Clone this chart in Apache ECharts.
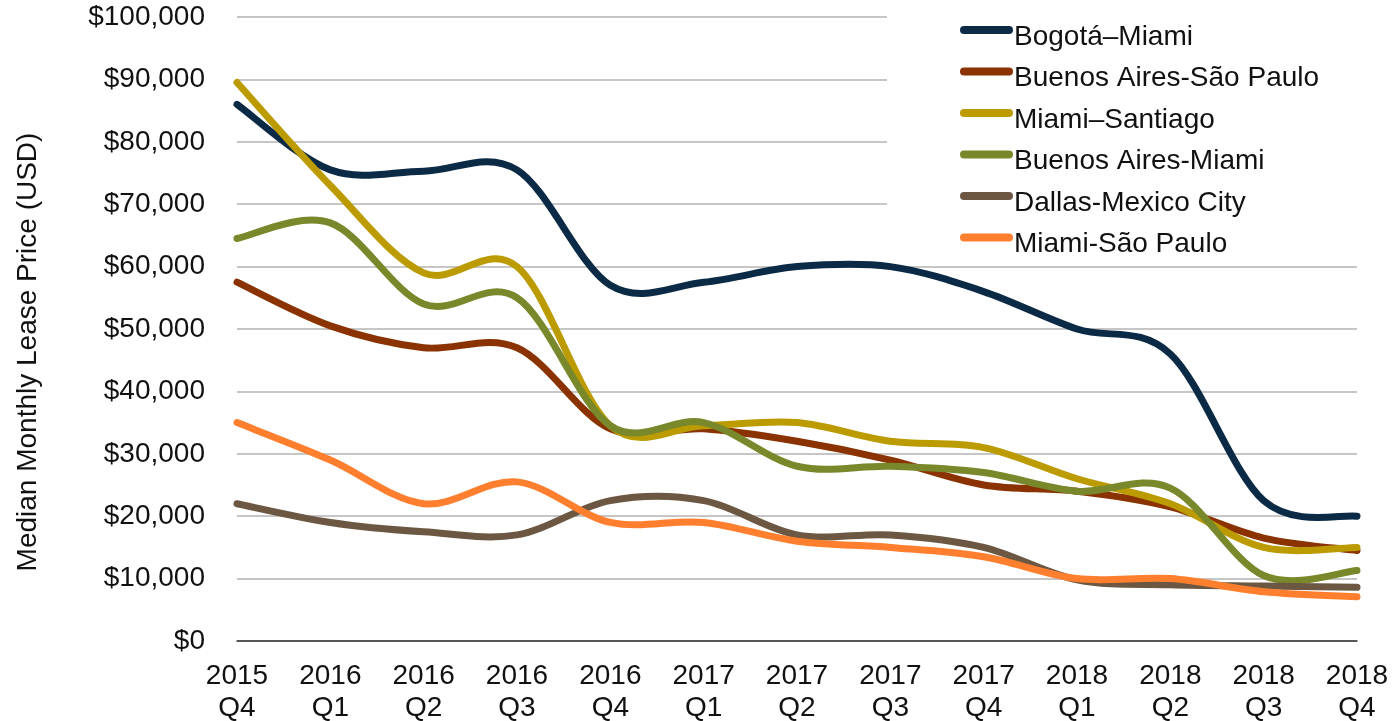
<!DOCTYPE html>
<html>
<head>
<meta charset="utf-8">
<script src="https://cdn.jsdelivr.net/npm/echarts@6/dist/echarts.min.js"></script>
<style>
  html, body { margin: 0; padding: 0; background: #fff; }
  #chart { width: 1392px; height: 721px; }
</style>
</head>
<body>
<div id="chart"></div>
<script>
const categories = ['2015\nQ4','2016\nQ1','2016\nQ2','2016\nQ3','2016\nQ4','2017\nQ1','2017\nQ2','2017\nQ3','2017\nQ4','2018\nQ1','2018\nQ2','2018\nQ3','2018\nQ4'];

const seriesNames = ['Bogotá–Miami','Buenos Aires-São Paulo','Miami–Santiago','Buenos Aires-Miami','Dallas-Mexico City','Miami-São Paulo'];
const seriesColors = ['#0b2a45','#8a3200','#bb9b00','#79882a','#6c5842','#ff7f2e'];

const bogotaMiami         = [86000, 75500, 75300, 75500, 57000, 57500, 60000, 60000, 56000, 50000, 46000, 22500, 20000];
const buenosAiresSaoPaulo = [57500, 50500, 47000, 47000, 34000, 34000, 32000, 29000, 25000, 24000, 21500, 16500, 14500];
const miamiSantiago       = [89500, 73000, 59000, 60000, 34500, 34500, 35000, 32000, 31000, 26000, 22000, 15000, 15000];
const buenosAiresMiami    = [64500, 67000, 54000, 55000, 34500, 35000, 28000, 28000, 27000, 24000, 24500, 10500, 11300];
const dallasMexicoCity    = [22000, 19000, 17500, 17000, 22500, 22500, 17000, 17000, 15000, 9800, 9000, 8800, 8600];
const miamiSaoPaulo       = [35000, 29000, 22000, 25500, 19000, 19000, 16000, 15000, 13500, 10000, 10000, 7900, 7100];

const seriesValues = [bogotaMiami, buenosAiresSaoPaulo, miamiSantiago, buenosAiresMiami, dallasMexicoCity, miamiSaoPaulo];

const yMin = 0, yMax = 100000, yStep = 10000;
const yAxisTitle = 'Median Monthly Lease Price (USD)';

function money(v) {
  return '$' + String(Math.round(v)).replace(/\B(?=(\d{3})+(?!\d))/g, ',');
}

const FONT = '"Liberation Sans", Arial, Helvetica, sans-serif';

// Spreadsheet-style smoothed line (Catmull-Rom through the data points),
// positioned through the chart's own axes via api.coord.
function makeRenderer(values, color) {
  return function (params, api) {
    if (params.dataIndex !== 0) return null;
    const p = values.map((v, i) => api.coord([i, v]));
    const n = p.length;
    const at = (i) => p[Math.max(0, Math.min(n - 1, i))];
    let d = 'M' + p[0][0] + ',' + p[0][1];
    for (let i = 0; i < n - 1; i++) {
      const p0 = at(i - 1), p1 = at(i), p2 = at(i + 1), p3 = at(i + 2);
      const c1x = p1[0] + (p2[0] - p0[0]) / 6, c1y = p1[1] + (p2[1] - p0[1]) / 6;
      const c2x = p2[0] - (p3[0] - p1[0]) / 6, c2y = p2[1] - (p3[1] - p1[1]) / 6;
      d += 'C' + c1x + ',' + c1y + ',' + c2x + ',' + c2y + ',' + p2[0] + ',' + p2[1];
    }
    return {
      type: 'path',
      shape: { pathData: d },
      style: { stroke: color, fill: 'none', lineWidth: 7, lineCap: 'round', lineJoin: 'round' },
      silent: true
    };
  };
}

const chart = echarts.init(document.getElementById('chart'), null, { renderer: 'canvas' });

chart.setOption({
  animation: false,
  backgroundColor: '#ffffff',
  color: seriesColors,
  textStyle: { fontFamily: FONT },
  grid: { left: 237, right: 35, top: 17, bottom: 80, containLabel: false, outerBoundsMode: 'none' },
  legend: {
    orient: 'vertical',
    left: 887,
    top: 2,
    padding: [20, 40, 0, 73],
    backgroundColor: '#ffffff',
    itemWidth: 53,
    itemHeight: 22,
    itemGap: 11.5,
    icon: 'path://M4,0H49A4,4,0,0,1,49,8H4A4,4,0,0,1,4,0Z M0,22',
    itemStyle: { borderWidth: 0 },
    textStyle: { fontFamily: FONT, fontSize: 28, color: '#111', lineHeight: 30, padding: [0, 0, 0, -4] },
    data: seriesNames
  },
  xAxis: {
    type: 'category',
    data: categories,
    boundaryGap: false,
    axisLine: { show: true, lineStyle: { color: '#333', width: 1.5 } },
    axisTick: { show: false },
    axisLabel: { fontFamily: FONT, fontSize: 28, color: '#111', lineHeight: 32, margin: 19, interval: 0 },
    splitLine: { show: false }
  },
  yAxis: {
    type: 'value',
    min: yMin, max: yMax, interval: yStep,
    name: yAxisTitle,
    nameLocation: 'middle',
    nameRotate: 90,
    nameGap: 195,
    nameTextStyle: { fontFamily: FONT, fontSize: 28, color: '#111', padding: [0, 46, 0, 0] },
    axisLine: { show: false },
    axisTick: { show: false },
    axisLabel: { fontFamily: FONT, fontSize: 28, color: '#111', margin: 32, formatter: money },
    splitLine: { show: true, lineStyle: { color: '#b3b3b3', width: 1.5 } }
  },
  series: seriesNames.map((name, i) => ({
    name: name,
    type: 'custom',
    coordinateSystem: 'cartesian2d',
    data: seriesValues[i].map((v, j) => [j, v]),
    encode: { x: 0, y: 1 },
    itemStyle: { color: seriesColors[i] },
    renderItem: makeRenderer(seriesValues[i], seriesColors[i]),
    clip: false,
    z: 2 + i
  }))
});
</script>
</body>
</html>
